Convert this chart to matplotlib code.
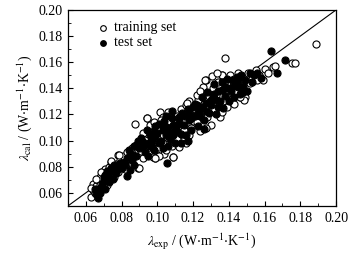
import matplotlib
matplotlib.use("Agg")
import matplotlib.pyplot as plt
from matplotlib.ticker import MultipleLocator

plt.rcParams["font.family"] = ["Liberation Serif", "DejaVu Serif"]
plt.rcParams["mathtext.fontset"] = "stix"
plt.rcParams["font.size"] = 10

# training set (open circles)
train_x = [0.063, 0.064, 0.064, 0.065, 0.066, 0.067, 0.068, 0.069, 0.066, 0.068, 0.070, 0.063,
           0.071, 0.072, 0.073, 0.074, 0.075, 0.076, 0.077, 0.078, 0.079, 0.072, 0.074, 0.076, 0.078, 0.080,
           0.081, 0.082, 0.083, 0.084, 0.085, 0.086, 0.087, 0.0875, 0.088, 0.089, 0.082, 0.086, 0.089,
           0.090, 0.091, 0.0922, 0.093, 0.094, 0.094, 0.095, 0.096, 0.097, 0.098, 0.099, 0.0996, 0.092, 0.096, 0.098, 0.093,
           0.1015, 0.100, 0.101, 0.102, 0.103, 0.104, 0.105, 0.106, 0.107, 0.108, 0.109, 0.110, 0.100, 0.102,
           0.104, 0.106, 0.108, 0.110, 0.101, 0.105, 0.107, 0.109, 0.103, 0.0977,
           0.111, 0.112, 0.113, 0.114, 0.115, 0.116, 0.117, 0.118, 0.119, 0.120, 0.112, 0.115, 0.118, 0.111, 0.116, 0.119,
           0.121, 0.122, 0.123, 0.124, 0.125, 0.1257, 0.126, 0.127, 0.128, 0.129, 0.130, 0.122, 0.127, 0.124, 0.129,
           0.1304, 0.131, 0.132, 0.133, 0.134, 0.135, 0.136, 0.137, 0.1379, 0.138, 0.139, 0.140, 0.133, 0.136,
           0.1407, 0.141, 0.142, 0.143, 0.144, 0.145, 0.146, 0.147, 0.148, 0.149, 0.150, 0.1485, 0.143,
           0.151, 0.153, 0.155, 0.157, 0.1593, 0.160, 0.162, 0.1649, 0.1659, 0.1755, 0.177, 0.1886, 0.152, 0.156,
           0.0942, 0.0989, 0.0687, 0.0742, 0.0784, 0.0896, 0.1267, 0.136, 0.1332, 0.1164, 0.109, 0.146]
train_y = [0.057, 0.062, 0.067, 0.060, 0.065, 0.070, 0.072, 0.076, 0.071, 0.066, 0.074, 0.064,
           0.078, 0.070, 0.080, 0.084, 0.077, 0.072, 0.082, 0.089, 0.085, 0.066, 0.074, 0.079, 0.076, 0.082,
           0.088, 0.084, 0.091, 0.080, 0.086, 0.094, 0.090, 0.1128, 0.097, 0.079, 0.078, 0.082, 0.093,
           0.098, 0.092, 0.0866, 0.102, 0.117, 0.096, 0.105, 0.090, 0.108, 0.100, 0.087, 0.089, 0.106, 0.112, 0.114, 0.095,
           0.1217, 0.110, 0.095, 0.104, 0.118, 0.090, 0.112, 0.099, 0.120, 0.106, 0.0877, 0.114, 0.102, 0.116,
           0.108, 0.122, 0.096, 0.103, 0.088, 0.093, 0.115, 0.109, 0.098, 0.0877,
           0.119, 0.109, 0.124, 0.100, 0.116, 0.127, 0.112, 0.104, 0.121, 0.115, 0.095, 0.108, 0.130, 0.101, 0.098, 0.110,
           0.124, 0.114, 0.131, 0.107, 0.120, 0.1413, 0.128, 0.146, 0.118, 0.134, 0.112, 0.135, 0.110, 0.138, 0.125,
           0.1495, 0.140, 0.124, 0.135, 0.145, 0.118, 0.150, 0.130, 0.163, 0.141, 0.126, 0.137, 0.128, 0.122,
           0.150, 0.143, 0.132, 0.147, 0.138, 0.152, 0.1337, 0.144, 0.133, 0.1337, 0.148, 0.131, 0.128,
           0.152, 0.147, 0.154, 0.150, 0.1464, 0.155, 0.152, 0.1567, 0.157, 0.1597, 0.1597, 0.1742, 0.144, 0.146,
           0.1170, 0.0870, 0.0763, 0.0844, 0.0890, 0.0788, 0.1460, 0.1500, 0.1516, 0.1286, 0.0877, 0.1337]

# test set (filled circles)
test_x = [0.0668, 0.066, 0.067, 0.068, 0.069, 0.070, 0.071, 0.065, 0.068, 0.070,
          0.071, 0.072, 0.073, 0.074, 0.075, 0.076, 0.077, 0.078, 0.079, 0.080, 0.073,
          0.081, 0.0828, 0.083, 0.0849, 0.085, 0.086, 0.087, 0.088, 0.089, 0.084, 0.087,
          0.090, 0.091, 0.092, 0.093, 0.094, 0.095, 0.096, 0.097, 0.098, 0.099, 0.095, 0.097,
          0.100, 0.101, 0.102, 0.103, 0.104, 0.1052, 0.105, 0.106, 0.107, 0.108, 0.109, 0.110, 0.103, 0.106, 0.108, 0.110,
          0.111, 0.112, 0.113, 0.114, 0.115, 0.116, 0.117, 0.118, 0.119, 0.120, 0.113, 0.117,
          0.121, 0.122, 0.123, 0.124, 0.125, 0.126, 0.127, 0.128, 0.129, 0.130, 0.123, 0.126,
          0.131, 0.132, 0.133, 0.134, 0.135, 0.136, 0.137, 0.138, 0.139, 0.140, 0.134,
          0.141, 0.142, 0.1444, 0.145, 0.146, 0.147, 0.148, 0.150, 0.149, 0.143,
          0.1519, 0.154, 0.156, 0.158, 0.1634, 0.1668, 0.1716, 0.153,
          0.092, 0.096, 0.099, 0.101, 0.104, 0.107, 0.109, 0.112, 0.115, 0.118, 0.121, 0.124,
          0.127, 0.130, 0.133, 0.136, 0.139, 0.142, 0.145, 0.148, 0.098, 0.105, 0.111, 0.119,
          0.125, 0.132, 0.138, 0.144, 0.076, 0.082, 0.086, 0.069]
test_y = [0.056, 0.059, 0.062, 0.064, 0.067, 0.069, 0.063, 0.063, 0.060, 0.072,
          0.074, 0.077, 0.068, 0.079, 0.071, 0.081, 0.075, 0.078, 0.083, 0.079, 0.073,
          0.083, 0.073, 0.087, 0.0776, 0.090, 0.085, 0.096, 0.088, 0.100, 0.093, 0.081,
          0.094, 0.102, 0.099, 0.091, 0.108, 0.097, 0.104, 0.095, 0.107, 0.111, 0.088, 0.100,
          0.106, 0.113, 0.100, 0.108, 0.115, 0.0827, 0.104, 0.110, 0.101, 0.117, 0.112, 0.107, 0.094, 0.096, 0.123, 0.098,
          0.112, 0.118, 0.105, 0.121, 0.112, 0.104, 0.124, 0.116, 0.108, 0.126, 0.098, 0.100,
          0.119, 0.127, 0.111, 0.124, 0.133, 0.116, 0.129, 0.137, 0.121, 0.131, 0.121, 0.109,
          0.134, 0.143, 0.120, 0.138, 0.130, 0.145, 0.125, 0.134, 0.147, 0.130, 0.126,
          0.138, 0.146, 0.149, 0.141, 0.136, 0.150, 0.142, 0.138, 0.146, 0.133,
          0.1516, 0.150, 0.152, 0.148, 0.1686, 0.1516, 0.1615, 0.145,
          0.096, 0.099, 0.103, 0.098, 0.111, 0.106, 0.104, 0.114, 0.119, 0.121, 0.128, 0.119,
          0.123, 0.127, 0.131, 0.139, 0.140, 0.141, 0.146, 0.137, 0.093, 0.119, 0.107, 0.117,
          0.126, 0.136, 0.141, 0.143, 0.077, 0.081, 0.089, 0.065]

lims = [0.05, 0.20]
xticks = [0.06, 0.08, 0.10, 0.12, 0.14, 0.16, 0.18, 0.20]
yticks = [0.06, 0.08, 0.10, 0.12, 0.14, 0.16, 0.18, 0.20]

fig = plt.figure(figsize=(3.61, 2.54), dpi=100)
ax = fig.add_axes([0.188, 0.189, 0.743, 0.772])

ax.plot(lims, lims, color="black", lw=0.8, zorder=1)
ax.scatter(train_x, train_y, s=26, facecolors="white", edgecolors="black",
           linewidths=0.8, label="training set", zorder=2)
ax.scatter(test_x, test_y, s=26, facecolors="black", edgecolors="black",
           linewidths=0.8, label="test set", zorder=3)

ax.set_xlim(lims)
ax.set_ylim(lims)
ax.set_xticks(xticks)
ax.set_yticks(yticks)
ax.set_xticklabels(["%.2f" % v for v in xticks])
ax.set_yticklabels(["%.2f" % v for v in yticks])
ax.xaxis.set_minor_locator(MultipleLocator(0.01))
ax.yaxis.set_minor_locator(MultipleLocator(0.01))
ax.tick_params(which="major", direction="in", length=3.5, width=0.8, pad=4)
ax.tick_params(which="minor", direction="in", length=2, width=0.6)
for sp in ax.spines.values():
    sp.set_linewidth(0.9)

ax.set_xlabel(r"$\lambda_{\rm exp}$ / (W$\cdot$m$^{-1}$$\cdot$K$^{-1}$)", labelpad=5)
ax.set_ylabel(r"$\lambda_{\rm cal}$ / (W$\cdot$m$^{-1}$$\cdot$K$^{-1}$)", labelpad=3)

ax.legend(loc="upper left", bbox_to_anchor=(0.07, 0.985), frameon=False,
          handletextpad=0.2, borderaxespad=0.2, labelspacing=0.15, markerscale=0.8,
          handlelength=1.2)

fig.savefig("out.png", dpi=100)
